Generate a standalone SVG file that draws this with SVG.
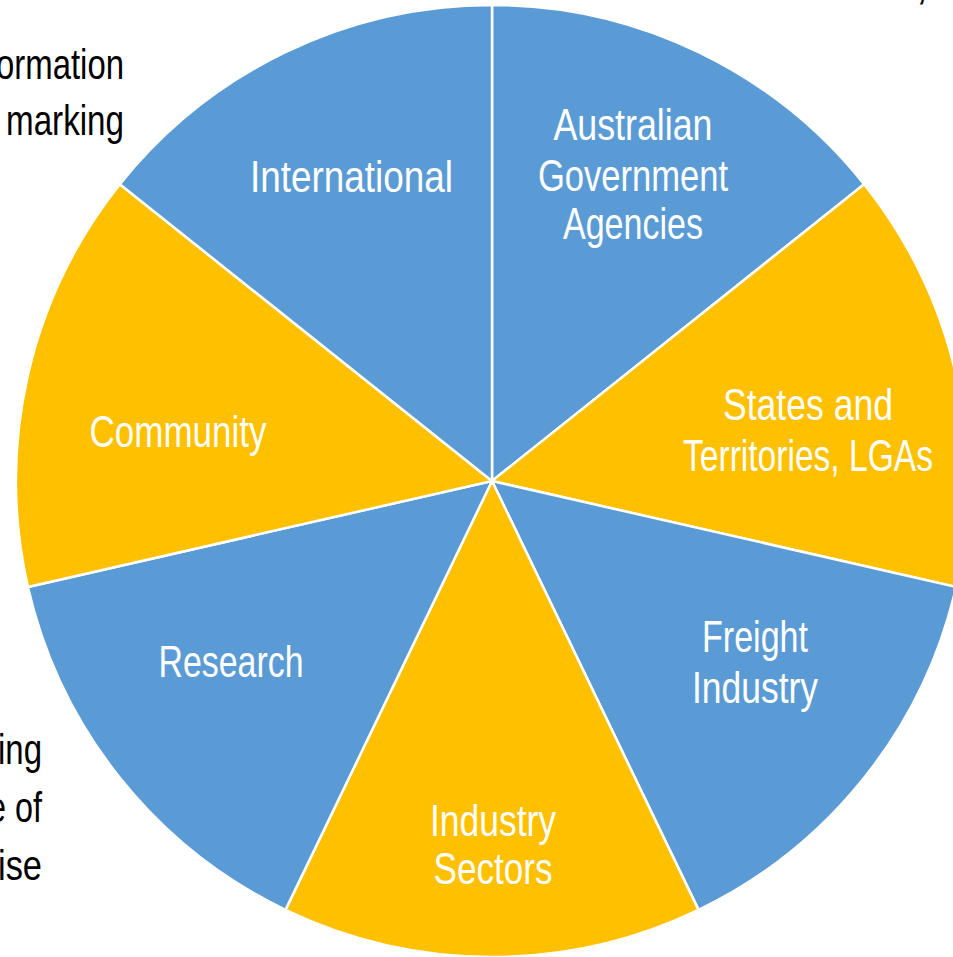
<svg xmlns="http://www.w3.org/2000/svg" width="953" height="957" viewBox="0 0 953 957">
<style>
.blue{fill:#5B9BD5;stroke:#fff;stroke-width:2.5;stroke-linejoin:round}
.yel{fill:#FFC000;stroke:#fff;stroke-width:2.5;stroke-linejoin:round}
.lbl{font-family:"Liberation Sans",Arial,sans-serif;font-size:45px;fill:#fff;text-anchor:middle}
.side{font-family:"Liberation Sans",Arial,sans-serif;font-size:42px;fill:#000}
</style>
<rect width="953" height="957" fill="#fff"/>
<g id="side-text">
<text class="side" x="124" y="79" text-anchor="end" textLength="128" lengthAdjust="spacingAndGlyphs">ormation</text>
<text class="side" x="124" y="135" text-anchor="end" textLength="118" lengthAdjust="spacingAndGlyphs">marking</text>
<text class="side" x="42" y="764" text-anchor="end" textLength="44" lengthAdjust="spacingAndGlyphs">ing</text>
<text class="side" x="42" y="822" text-anchor="end" textLength="54" lengthAdjust="spacingAndGlyphs">e of</text>
<text class="side" x="42" y="880" text-anchor="end" textLength="44" lengthAdjust="spacingAndGlyphs">ise</text>
<text class="side" x="916" y="-1">,</text>
</g>
<g id="n-australian">
<path class="blue" d="M492,481 L492,5 A476,476 0 0 1 864.15,184.22 Z"/>
<text class="lbl" x="633" y="140" textLength="159" lengthAdjust="spacingAndGlyphs">Australian</text>
<text class="lbl" x="633" y="191" textLength="190" lengthAdjust="spacingAndGlyphs">Government</text>
<text class="lbl" x="633" y="239" textLength="140" lengthAdjust="spacingAndGlyphs">Agencies</text>
</g>
<g id="n-states">
<path class="yel" d="M492,481 L864.15,184.22 A476,476 0 0 1 956.07,586.92 Z"/>
<text class="lbl" x="808" y="420" textLength="170" lengthAdjust="spacingAndGlyphs">States and</text>
<text class="lbl" x="808" y="471" textLength="250" lengthAdjust="spacingAndGlyphs">Territories, LGAs</text>
</g>
<g id="n-freight">
<path class="blue" d="M492,481 L956.07,586.92 A476,476 0 0 1 698.53,909.86 Z"/>
<text class="lbl" x="755" y="652" textLength="106" lengthAdjust="spacingAndGlyphs">Freight</text>
<text class="lbl" x="755" y="703" textLength="126" lengthAdjust="spacingAndGlyphs">Industry</text>
</g>
<g id="n-sectors">
<path class="yel" d="M492,481 L698.53,909.86 A476,476 0 0 1 285.47,909.86 Z"/>
<text class="lbl" x="493" y="836" textLength="126" lengthAdjust="spacingAndGlyphs">Industry</text>
<text class="lbl" x="493" y="884" textLength="119" lengthAdjust="spacingAndGlyphs">Sectors</text>
</g>
<g id="n-research">
<path class="blue" d="M492,481 L285.47,909.86 A476,476 0 0 1 27.93,586.92 Z"/>
<text class="lbl" x="231" y="677" textLength="145" lengthAdjust="spacingAndGlyphs">Research</text>
</g>
<g id="n-community">
<path class="yel" d="M492,481 L27.93,586.92 A476,476 0 0 1 119.85,184.22 Z"/>
<text class="lbl" x="178" y="447" textLength="177" lengthAdjust="spacingAndGlyphs">Community</text>
</g>
<g id="n-international">
<path class="blue" d="M492,481 L119.85,184.22 A476,476 0 0 1 492,5 Z"/>
<text class="lbl" x="351.5" y="192" textLength="203" lengthAdjust="spacingAndGlyphs">International</text>
</g>
<g id="connectors"></g>
</svg>
